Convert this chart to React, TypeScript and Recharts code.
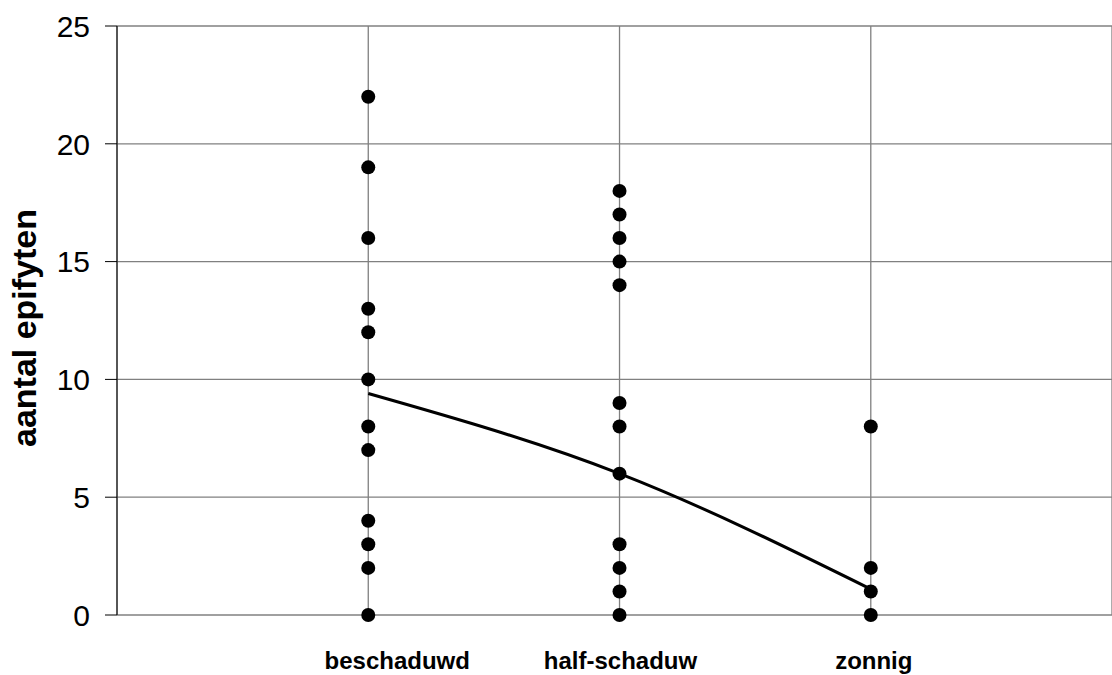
import React from 'react'
import { ComposedChart, Scatter, Line, XAxis, YAxis, CartesianGrid } from 'recharts'

// meetpunten per standplaats
const CATEGORIES = ['beschaduwd', 'half-schaduw', 'zonnig']
const BESCHADUWD = [22, 19, 16, 13, 12, 10, 8, 7, 4, 3, 2, 0]
const HALF_SCHADUW = [18, 17, 16, 15, 14, 9, 8, 6, 3, 2, 1, 0]
const ZONNIG = [8, 2, 1, 0]
const TREND = [9.4, 6.0, 1.1]
const Y_TICKS = [0, 5, 10, 15, 20, 25]

const SERIES = [BESCHADUWD, HALF_SCHADUW, ZONNIG]
const points = SERIES.flatMap((vals, i) => vals.map(v => ({ x: i + 1, y: v })))
const trend = TREND.map((v, i) => ({ x: i + 1, y: v }))

const FONT = 'Arial, "Liberation Sans", sans-serif'

// label nudges so the text sits where the original put it
const LABEL_SHIFT = [29, 1, 3]

const XTick = ({ x, y, payload, index }: any) => (
  <text x={x + (LABEL_SHIFT[index] ?? 0)} y={y + 46} textAnchor="middle"
    fontFamily={FONT} fontWeight="bold" fontSize={24} fill="#000">
    {CATEGORIES[payload.value - 1]}
  </text>
)

const YTick = ({ x, y, payload }: any) => (
  <text x={x} y={y} dy="0.36em" textAnchor="end" fontFamily={FONT} fontSize={30} fill="#000">
    {payload.value}
  </text>
)

const Dot = ({ cx, cy }: any) => <circle cx={cx} cy={cy} r={7} fill="#000" />

export default function App() {
  return (
    <div style={{ position: 'absolute', left: 0, top: 0, background: '#fff' }}>
      <ComposedChart width={1112} height={675} margin={{ top: 26, right: 0, bottom: 0, left: 0 }}>
        <CartesianGrid stroke="#808080" strokeWidth={1.3} />
        <XAxis dataKey="x" type="number" domain={[0, 3.96]} ticks={[1, 2, 3]}
          height={60} axisLine={false} tickLine={false} tick={<XTick />} interval={0} />
        <YAxis dataKey="y" type="number" domain={[0, 25]} ticks={Y_TICKS} width={117}
          axisLine={{ stroke: '#000' }} tickLine={{ stroke: '#000' }} tickSize={12} tickMargin={15}
          tick={<YTick />} interval={0} />
        <Line data={trend} dataKey="y" type="natural" stroke="#000" strokeWidth={3}
          dot={false} activeDot={false} isAnimationActive={false} />
        <Scatter data={points} dataKey="y" shape={<Dot />} isAnimationActive={false} />
      </ComposedChart>
      <svg width={60} height={675} style={{ position: 'absolute', left: 0, top: 0 }}>
        <text x={36} y={328} transform="rotate(-90, 36, 328)" textAnchor="middle"
          fontFamily={FONT} fontWeight="bold" fontSize={34} fill="#000">
          aantal epifyten
        </text>
      </svg>
    </div>
  )
}
